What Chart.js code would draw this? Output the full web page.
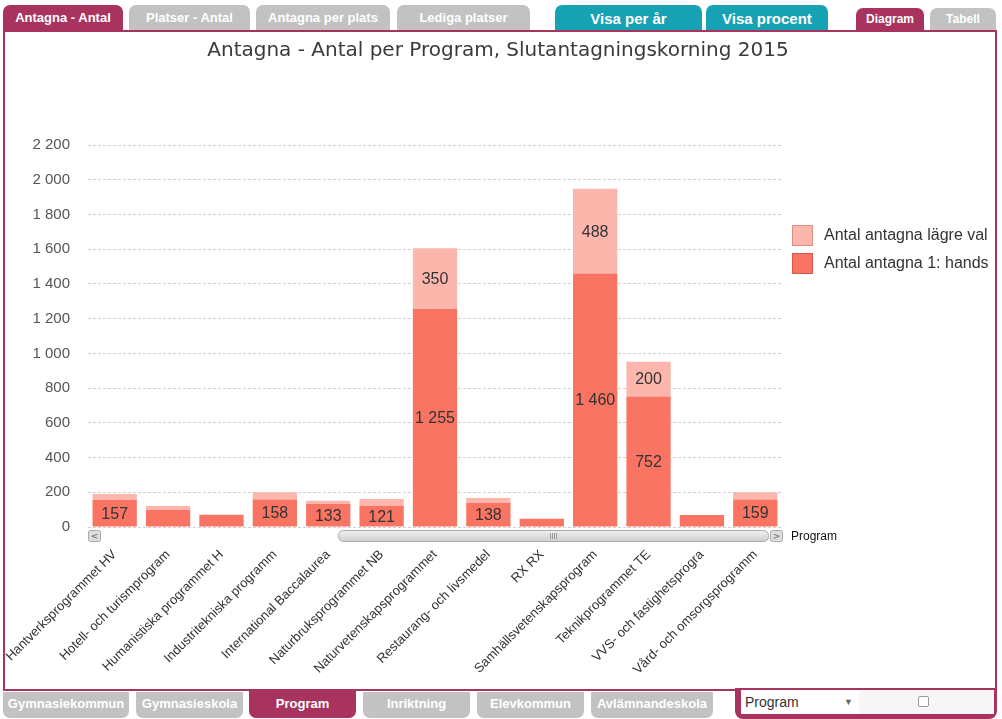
<!DOCTYPE html>
<html>
<head>
<meta charset="utf-8">
<script src="https://cdn.jsdelivr.net/npm/chart.js@4.4.1/dist/chart.umd.min.js"></script>
<style>
html,body{margin:0;padding:0;background:#fff;width:1002px;height:719px;overflow:hidden;font-family:"Liberation Sans",Arial,sans-serif;}
.tab{position:absolute;color:#fff;font-weight:bold;text-align:center;box-sizing:border-box;white-space:nowrap;overflow:hidden;}
.top{border-radius:7px 7px 0 0;}
.bot{border-radius:0 0 7px 7px;}
.grey{background:#c2c2c2;}
.mar{background:#a9335f;}
.teal{background:#17a2b4;}
#frame{position:absolute;left:3px;top:30px;width:994px;height:661px;box-sizing:border-box;border:2px solid #a9335f;background:#fff;}
#wrap{position:absolute;left:5px;top:32px;width:990px;height:657px;}
#box{position:absolute;left:735px;top:688px;width:262px;height:31px;box-sizing:border-box;border:3px solid #a9335f;border-top:none;border-radius:0 0 8px 8px;background:#a9335f;}
#sel{position:absolute;left:3px;top:2px;width:118px;height:24px;background:#fff;font-size:14px;color:#333;line-height:24px;padding-left:4px;box-sizing:border-box;}
#sel span{position:absolute;right:6px;top:0;font-size:9px;color:#666;}
#chk{position:absolute;left:121px;top:2px;width:135px;height:24px;background:#f6f6f6;}
#chk div{position:absolute;left:59px;top:6px;width:9px;height:9px;border:1px solid #999;border-radius:2px;background:#fff;}
</style>
</head>
<body>
<div class="tab top mar" style="left:3px;top:5px;width:120px;height:25px;font-size:13px;line-height:25px;">Antagna - Antal</div>
<div class="tab top grey" style="left:129px;top:5px;width:121px;height:25px;font-size:13px;line-height:25px;">Platser - Antal</div>
<div class="tab top grey" style="left:256px;top:5px;width:134px;height:25px;font-size:13px;line-height:25px;">Antagna per plats</div>
<div class="tab top grey" style="left:397px;top:5px;width:133px;height:25px;font-size:13px;line-height:25px;">Lediga platser</div>
<div class="tab top teal" style="left:555px;top:5px;width:147px;height:27px;font-size:15px;line-height:27px;">Visa per år</div>
<div class="tab top teal" style="left:706px;top:5px;width:122px;height:27px;font-size:15px;line-height:27px;">Visa procent</div>
<div class="tab top mar" style="left:856px;top:8px;width:68px;height:22px;font-size:12px;line-height:22px;">Diagram</div>
<div class="tab top grey" style="left:930px;top:8px;width:66px;height:22px;font-size:12px;line-height:22px;">Tabell</div>
<div id="frame"></div>
<div id="wrap"><canvas id="c" width="990" height="657"></canvas></div>
<div class="tab bot grey" style="left:3px;top:692px;width:126px;height:26px;font-size:13px;line-height:24px;">Gymnasiekommun</div>
<div class="tab bot grey" style="left:136px;top:692px;width:107px;height:26px;font-size:13px;line-height:24px;">Gymnasieskola</div>
<div class="tab bot mar" style="left:249px;top:691px;width:107px;height:27px;font-size:13px;line-height:26px;">Program</div>
<div class="tab bot grey" style="left:363px;top:692px;width:107px;height:26px;font-size:13px;line-height:24px;">Inriktning</div>
<div class="tab bot grey" style="left:477px;top:692px;width:107px;height:26px;font-size:13px;line-height:24px;">Elevkommun</div>
<div class="tab bot grey" style="left:591px;top:692px;width:122px;height:26px;font-size:13px;line-height:24px;">Avlämnandeskola</div>
<div id="box"><div id="sel">Program<span>&#9660;</span></div><div id="chk"><div></div></div></div>
<script>
const categories = ["Hantverksprogrammet HV","Hotell- och turismprogram","Humanistiska programmet H","Industritekniska programm","International Baccalaurea","Naturbruksprogrammet NB","Naturvetenskapsprogrammet","Restaurang- och livsmedel","RX RX","Samhällsvetenskapsprogram","Teknikprogrammet TE","VVS- och fastighetsprogra","Vård- och omsorgsprogramm"];
const firstChoice = [157, 98, 70, 158, 133, 121, 1255, 138, 48, 1460, 752, 69, 159];
const lowerChoice = [33, 23, 0, 42, 18, 40, 350, 29, 0, 488, 200, 0, 41];
const seriesNames = ["Antal antagna 1: hands", "Antal antagna lägre val"];
const chartTitle = "Antagna - Antal per Program, Slutantagningskorning 2015";
const axisName = "Program";
const yMax = 2200, yStep = 200;

const C1 = "rgb(250,116,99)", C2 = "rgb(252,182,172)";
const fmt = v => String(v).replace(/\B(?=(\d{3})+(?!\d))/g, " ");

const extras = {
  id: "extras",
  afterDraw(chart) {
    const ctx = chart.ctx, a = chart.chartArea;
    ctx.save();
    // title
    ctx.fillStyle = "#3a3a3a";
    ctx.font = "20px 'DejaVu Sans', Verdana, sans-serif";
    ctx.textAlign = "center"; ctx.textBaseline = "middle";
    ctx.fillText(chartTitle, 493, 19);
    // data labels
    ctx.font = "16px 'Liberation Sans', Arial, sans-serif";
    ctx.fillStyle = "#333";
    chart.data.datasets.forEach((ds, i) => {
      chart.getDatasetMeta(i).data.forEach((bar, j) => {
        const v = ds.data[j];
        const h = Math.abs(bar.base - bar.y);
        if (v > 0 && h >= 20) ctx.fillText(fmt(v), bar.x, (bar.y + bar.base) / 2 + 1);
      });
    });
    // scrollbar
    const sy = a.bottom + 3, sh = 11;
    const btn = (x) => {
      ctx.fillStyle = "#ddd"; ctx.strokeStyle = "#aaa"; ctx.lineWidth = 1;
      ctx.beginPath(); ctx.roundRect(x + 0.5, sy + 0.5, 12, sh, 2); ctx.fill(); ctx.stroke();
    };
    btn(a.left);
    ctx.fillStyle = "#777"; ctx.font = "bold 9px 'DejaVu Sans', sans-serif";
    ctx.fillText("<", a.left + 6.5, sy + 6.5);
    btn(a.right - 12);
    ctx.fillStyle = "#777";
    ctx.fillText(">", a.right - 5.5, sy + 6.5);
    const g = ctx.createLinearGradient(0, sy, 0, sy + sh);
    g.addColorStop(0, "#f2f2f2"); g.addColorStop(1, "#d0d0d0");
    ctx.fillStyle = g; ctx.strokeStyle = "#aaa";
    ctx.beginPath(); ctx.roundRect(333.5, sy + 0.5, a.right - 14 - 333, sh, 5); ctx.fill(); ctx.stroke();
    ctx.strokeStyle = "#999";
    for (let k = 0; k < 4; k++) { ctx.beginPath(); ctx.moveTo(545.5 + k * 2, sy + 3); ctx.lineTo(545.5 + k * 2, sy + 9); ctx.stroke(); }
    ctx.fillStyle = "#111"; ctx.font = "12px 'Liberation Sans', Arial, sans-serif";
    ctx.textAlign = "left";
    ctx.fillText(axisName, a.right + 9, sy + 7);
    // legend
    const items = [[seriesNames[1], C2, "rgb(225,140,130)"], [seriesNames[0], C1, "rgb(215,90,75)"]];
    ctx.font = "16px 'Liberation Sans', Arial, sans-serif";
    items.forEach((it, k) => {
      const y = 193 + k * 28;
      ctx.fillStyle = it[1]; ctx.strokeStyle = it[2];
      ctx.fillRect(787, y, 21, 21); ctx.strokeRect(787.5, y + 0.5, 20, 20);
      ctx.fillStyle = "#333";
      ctx.fillText(it[0], 819, y + 11);
    });
    ctx.restore();
  }
};

new Chart(document.getElementById("c"), {
  type: "bar",
  data: {
    labels: categories,
    datasets: [
      { label: seriesNames[0], data: firstChoice, backgroundColor: C1, borderWidth: 0, stack: "s", barPercentage: 0.83, categoryPercentage: 1 },
      { label: seriesNames[1], data: lowerChoice, backgroundColor: C2, borderWidth: 0, stack: "s", barPercentage: 0.83, categoryPercentage: 1 }
    ]
  },
  options: {
    responsive: false,
    animation: false,
    layout: { padding: { left: 0, right: 213, top: 113, bottom: 0 } },
    plugins: { legend: { display: false }, tooltip: { enabled: false }, title: { display: false } },
    scales: {
      x: {
        stacked: true,
        afterFit(s) { s.height = 162; s.paddingLeft = 0; s.paddingRight = 0; },
        grid: { display: false, drawTicks: false },
        border: { display: false },
        ticks: { autoSkip: false, maxRotation: 45, minRotation: 45, padding: 20, color: "#333", font: { family: "'Liberation Sans', Arial, sans-serif", size: 13 } }
      },
      y: {
        stacked: true, min: 0, max: yMax,
        afterFit(s) { s.width = 83; s.paddingTop = 0; s.paddingBottom = 0; },
        border: { display: false, dash: [3, 2] },
        grid: { color: "#d0d0d0", drawTicks: false },
        ticks: { stepSize: yStep, padding: 18, color: "#555", font: { family: "'Liberation Sans', Arial, sans-serif", size: 15 }, callback: v => fmt(v) }
      }
    }
  },
  plugins: [extras]
});
</script>
</body>
</html>
